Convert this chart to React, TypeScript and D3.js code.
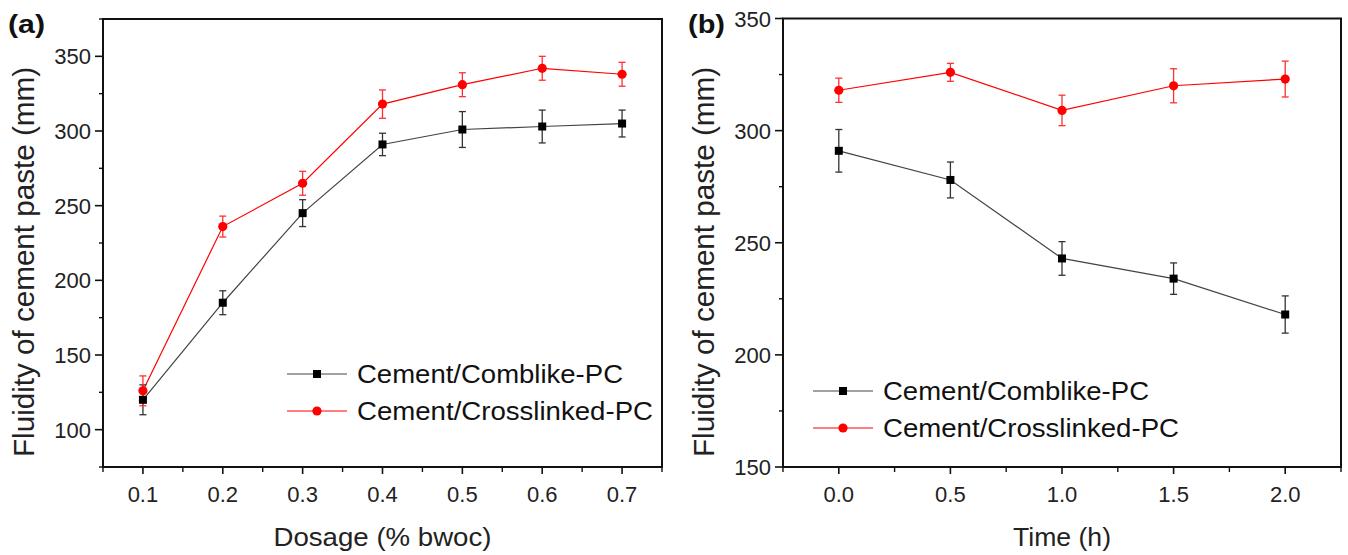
import React from "react";
import * as d3 from "d3";

// ---- Data ----
const dosage = [0.1, 0.2, 0.3, 0.4, 0.5, 0.6, 0.7];
const comblikeDosage = [120, 185, 245, 291, 301, 303, 305];
const comblikeDosageErr = [10, 8, 9, 7.5, 12, 11, 9];
const crosslinkedDosage = [126, 236, 265, 318, 331, 342, 338];
const crosslinkedDosageErr = [10, 7, 8, 9.5, 8, 8, 8];

const time = [0, 0.5, 1.0, 1.5, 2.0];
const comblikeTime = [291, 278, 243, 234, 218];
const comblikeTimeErr = [9.5, 8, 7.5, 7, 8.3];
const crosslinkedTime = [318, 326, 309, 320, 323];
const crosslinkedTimeErr = [5.4, 4, 6.8, 7.6, 8];

const seriesNames = ["Cement/Comblike-PC", "Cement/Crosslinked-PC"];
const dosageTicks = [0.1, 0.2, 0.3, 0.4, 0.5, 0.6, 0.7];
const dosageMinor = [0.05, 0.15, 0.25, 0.35, 0.45, 0.55, 0.65, 0.75];
const fluidityTicksA = [100, 150, 200, 250, 300, 350];
const fluidityMinorA = [75, 125, 175, 225, 275, 325, 375];
const timeTicks = [0, 0.5, 1.0, 1.5, 2.0];
const timeMinor = [-0.25, 0.25, 0.75, 1.25, 1.75, 2.25];
const fluidityTicksB = [150, 200, 250, 300, 350];
const fluidityMinorB = [175, 225, 275, 325];

const FONT = "'Liberation Sans', Arial, Helvetica, sans-serif";
const BLACK_LINE = "#444";
const RED = "#ff0000";

type PanelProps = {
  label: string;
  x0: number; x1: number; y0: number; y1: number;
  xDomain: [number, number]; yDomain: [number, number];
  xTicks: number[]; xMinor: number[]; xFmt: (v: number) => string;
  yTicks: number[]; yMinor: number[];
  xs: number[];
  s1: number[]; e1: number[]; s2: number[]; e2: number[];
  xLabel: string; xLabelLen: number;
  legendX: number; legendY: number; legendLineLen: number; legendTextGap: number;
};

function Panel(p: PanelProps) {
  const x = d3.scaleLinear().domain(p.xDomain).range([p.x0, p.x1]);
  const y = d3.scaleLinear().domain(p.yDomain).range([p.y1, p.y0]);
  const line = d3.line<number>().x((_, i) => x(p.xs[i])).y((d) => y(d));
  const capW = 3.5;
  const errBars = (vals: number[], errs: number[], color: string) =>
    vals.map((v, i) => {
      const cx = x(p.xs[i]);
      const top = y(v + errs[i]);
      const bot = y(v - errs[i]);
      return (
        <g key={i} stroke={color} strokeWidth={1.3}>
          <line x1={cx} x2={cx} y1={top} y2={bot} />
          <line x1={cx - capW} x2={cx + capW} y1={top} y2={top} />
          <line x1={cx - capW} x2={cx + capW} y1={bot} y2={bot} />
        </g>
      );
    });
  const lx = p.legendX;
  const lMid = lx + p.legendLineLen / 2;
  const tx = lx + p.legendLineLen + p.legendTextGap;
  const rowGap = 37;
  return (
    <g>
      <text x={p.x0 - 95} y={33} fontFamily={FONT} fontWeight="bold" fontSize={26}
        textLength={37} lengthAdjust="spacingAndGlyphs" fill="#111">{p.label}</text>
      {/* frame */}
      <rect x={p.x0} y={p.y0} width={p.x1 - p.x0} height={p.y1 - p.y0}
        fill="none" stroke="#111" strokeWidth={2} />
      {/* x ticks */}
      {p.xTicks.map((t) => (
        <g key={"xt" + t}>
          <line x1={x(t)} x2={x(t)} y1={p.y1} y2={p.y1 + 7} stroke="#111" strokeWidth={1.6} />
          <text x={x(t)} y={p.y1 + 35} textAnchor="middle" fontFamily={FONT} fontSize={22} fill="#222">{p.xFmt(t)}</text>
        </g>
      ))}
      {p.xMinor.map((t) => (
        <line key={"xm" + t} x1={x(t)} x2={x(t)} y1={p.y1} y2={p.y1 + 5} stroke="#111" strokeWidth={1.4} />
      ))}
      {/* y ticks */}
      {p.yTicks.map((t) => (
        <g key={"yt" + t}>
          <line x1={p.x0 - 8} x2={p.x0} y1={y(t)} y2={y(t)} stroke="#111" strokeWidth={1.6} />
          <text x={p.x0 - 12} y={y(t) + 8} textAnchor="end" fontFamily={FONT} fontSize={22} fill="#222">{t}</text>
        </g>
      ))}
      {p.yMinor.map((t) => (
        <line key={"ym" + t} x1={p.x0 - 4} x2={p.x0} y1={y(t)} y2={y(t)} stroke="#111" strokeWidth={1.4} />
      ))}
      {/* axis titles */}
      <text transform={`translate(${p.x0 - 69},262) rotate(-90)`} textAnchor="middle"
        fontFamily={FONT} fontSize={29} fill="#222" textLength={390} lengthAdjust="spacingAndGlyphs">
        Fluidity of cement paste (mm)
      </text>
      <text x={(p.x0 + p.x1) / 2} y={546} textAnchor="middle" fontFamily={FONT} fontSize={26}
        fill="#222" textLength={p.xLabelLen} lengthAdjust="spacingAndGlyphs">{p.xLabel}</text>
      {/* series */}
      <path d={line(p.s1) || ""} fill="none" stroke={BLACK_LINE} strokeWidth={1.2} />
      <path d={line(p.s2) || ""} fill="none" stroke={RED} strokeWidth={1.2} />
      {errBars(p.s1, p.e1, "#333")}
      {errBars(p.s2, p.e2, "#ff3030")}
      {p.s1.map((v, i) => (
        <rect key={"m1" + i} x={x(p.xs[i]) - 4} y={y(v) - 4} width={8} height={8} fill="#000" />
      ))}
      {p.s2.map((v, i) => (
        <circle key={"m2" + i} cx={x(p.xs[i])} cy={y(v)} r={4.6} fill={RED} />
      ))}
      {/* legend */}
      <line x1={lx} x2={lx + p.legendLineLen} y1={p.legendY} y2={p.legendY} stroke={BLACK_LINE} strokeWidth={1.2} />
      <rect x={lMid - 4} y={p.legendY - 4} width={8} height={8} fill="#000" />
      <text x={tx} y={p.legendY + 9} fontFamily={FONT} fontSize={26} fill="#111"
        textLength={266} lengthAdjust="spacingAndGlyphs">{seriesNames[0]}</text>
      <line x1={lx} x2={lx + p.legendLineLen} y1={p.legendY + rowGap} y2={p.legendY + rowGap} stroke={RED} strokeWidth={1.2} />
      <circle cx={lMid} cy={p.legendY + rowGap} r={4.6} fill={RED} />
      <text x={tx} y={p.legendY + rowGap + 9} fontFamily={FONT} fontSize={26} fill="#111"
        textLength={296} lengthAdjust="spacingAndGlyphs">{seriesNames[1]}</text>
    </g>
  );
}

export default function App() {
  return (
    <svg width={1348} height={555} style={{ position: "absolute", left: 0, top: 0, background: "#fff" }}>
      <Panel
        label="(a)"
        x0={103} x1={662} y0={19} y1={467}
        xDomain={[0.05, 0.75]} yDomain={[75, 375]}
        xTicks={dosageTicks} xMinor={dosageMinor} xFmt={(v) => v.toFixed(1)}
        yTicks={fluidityTicksA} yMinor={fluidityMinorA}
        xs={dosage}
        s1={comblikeDosage} e1={comblikeDosageErr}
        s2={crosslinkedDosage} e2={crosslinkedDosageErr}
        xLabel="Dosage (% bwoc)" xLabelLen={218}
        legendX={287} legendY={374} legendLineLen={60} legendTextGap={10}
      />
      <Panel
        label="(b)"
        x0={783} x1={1341} y0={18.5} y1={467}
        xDomain={[-0.25, 2.25]} yDomain={[150, 350]}
        xTicks={timeTicks} xMinor={timeMinor} xFmt={(v) => v.toFixed(1)}
        yTicks={fluidityTicksB} yMinor={fluidityMinorB}
        xs={time}
        s1={comblikeTime} e1={comblikeTimeErr}
        s2={crosslinkedTime} e2={crosslinkedTimeErr}
        xLabel="Time (h)" xLabelLen={98}
        legendX={813} legendY={391} legendLineLen={60} legendTextGap={10}
      />
    </svg>
  );
}
